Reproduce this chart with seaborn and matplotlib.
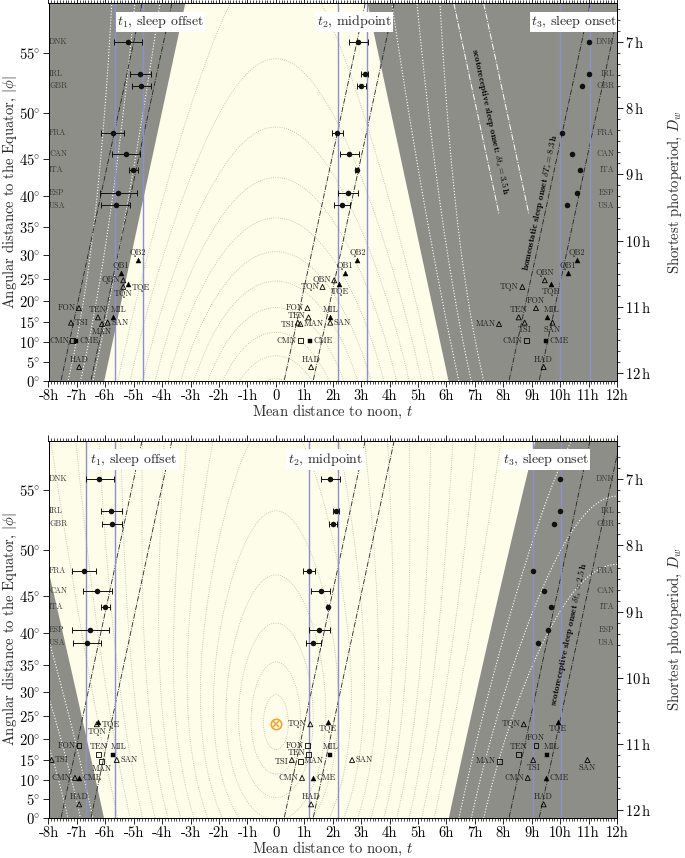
import numpy as np
import pandas as pd
import matplotlib
matplotlib.use("Agg")
import matplotlib.pyplot as plt
import seaborn as sns
from matplotlib.ticker import MultipleLocator

sns.set_theme(style="ticks", rc={"axes.edgecolor": "black", "xtick.color": "black",
                                  "ytick.color": "black", "axes.linewidth": 0.7})
plt.rcParams["font.family"] = ["cmr10", "DejaVu Serif"]
plt.rcParams["mathtext.fontset"] = "cm"
plt.rcParams["axes.unicode_minus"] = False
plt.rcParams["axes.formatter.use_mathtext"] = True

# ---------------- data ----------------
countries = ["DNK", "IRL", "GBR", "FRA", "CAN", "ITA", "ESP", "USA"]
country_Dw = [7.00, 7.48, 7.67, 8.38, 8.69, 8.93, 9.28, 9.47]

# upper panel (winter / standard time)
t1_w = [-5.21, -4.78, -4.74, -5.74, -5.27, -5.01, -5.54, -5.62]
t1_w_lo = [-5.68, -5.15, -5.07, -6.16, -5.77, -5.17, -6.20, -6.15]
t1_w_hi = [-4.70, -4.40, -4.40, -5.33, -4.77, -4.85, -4.88, -5.12]
t2_w = [2.90, 3.12, 3.01, 2.15, 2.57, 2.84, 2.52, 2.32]
t2_w_lo = [2.58, 2.99, 2.86, 1.97, 2.26, 2.80, 2.17, 2.06]
t2_w_hi = [3.24, 3.23, 3.18, 2.35, 2.91, 2.88, 2.90, 2.62]
t3_w = [11.00, 11.00, 10.77, 10.05, 10.42, 10.69, 10.58, 10.23]

# lower panel (summer)
t1_s = [-6.21, -5.79, -5.75, -6.74, -6.28, -6.01, -6.54, -6.63]
t1_s_lo = [-6.68, -6.16, -6.11, -7.16, -6.77, -6.16, -7.18, -7.13]
t1_s_hi = [-5.69, -5.40, -5.42, -6.32, -5.78, -5.83, -5.87, -6.15]
t2_s = [1.90, 2.11, 2.02, 1.15, 1.57, 1.84, 1.52, 1.31]
t2_s_lo = [1.58, 2.01, 1.87, 0.95, 1.24, 1.80, 1.15, 1.07]
t2_s_hi = [2.24, 2.22, 2.16, 1.36, 1.92, 1.88, 1.91, 1.60]
t3_s = [10.00, 9.98, 9.78, 9.04, 9.42, 9.68, 9.58, 9.23]

societies = ["QB2", "QB1", "QBN", "TQE", "TQN", "FON", "TEN", "MIL", "TSI", "MAN", "SAN", "CMN", "CME", "HAD"]
soc_Dw = [10.30, 10.49, 10.60, 10.66, 10.70, 11.02, 11.16, 11.16, 11.24, 11.26, 11.24, 11.51, 11.51, 11.91]
soc_mark_w = ["^f", "^f", "^o", "^f", "^o", "^o", "^o", "^f", "^o", "^o", "^o", "so", "sf", "^o"]
soc_t1_w = [-4.86, -5.45, -5.37, -5.19, -5.37, -6.93, -6.26, -5.72, -7.21, -6.12, -5.92, -7.16, -7.04, -6.92]
soc_t2_w = [2.87, 2.42, 2.05, 2.23, 1.64, 1.11, 1.15, 1.91, 0.77, 0.86, 1.91, 0.86, 1.21, 1.24]
soc_t3_w = [10.60, 10.26, 9.46, 9.68, 8.67, 9.15, 8.54, 9.52, 8.75, 7.85, 9.73, 8.81, 9.49, 9.42]
nan = np.nan
soc_mark_s = ["^f", "^f", "^o", "^f", "^o", "so", "so", "sf", "^o", "so", "^o", "^o", "^f", "^o"]
soc_t1_s = [nan, nan, nan, -6.25, -6.30, -6.93, -6.25, -5.72, -7.89, -6.14, -5.60, -7.07, -6.92, -6.92]
soc_t2_s = [nan, nan, nan, 1.82, 1.21, 1.11, 1.15, 1.91, 0.56, 0.86, 2.68, 0.92, 1.29, 1.24]
soc_t3_s = [nan, nan, nan, 9.92, 8.72, 9.15, 8.54, 9.52, 9.05, 7.86, 10.96, 8.86, 9.49, 9.42]

vlines_w = [-5.66, -4.66, 2.18, 3.19, 10.01, 11.06]
vlines_s = [-6.68, -5.66, 1.17, 2.18, 9.04, 10.04]
sunrise_offsets = [-1.50, -0.45, 6.35, 7.37, 14.26, 15.32]   # t = c - Dw/2
sunset_offsets_w = [3.05, 4.10]                              # t = Dw/2 + c

lat_ticks = list(range(0, 60, 5))
hour_ticks = list(range(-8, 13))
hour_labels = ["0" if h == 0 else f"{h}h" for h in hour_ticks]
dw_ticks = [7, 8, 9, 10, 11, 12]

DECL = 23.44
H0 = -0.833


def daylength(phi, decl):
    p = np.radians(phi)
    d = np.radians(decl)
    c = (np.sin(np.radians(H0)) - np.sin(p) * np.sin(d)) / (np.cos(p) * np.cos(d))
    return 2 * np.degrees(np.arccos(np.clip(c, -1, 1))) / 15.0


# ---------------- style ----------------
YELLOW = "#fefde9"
GRAY = "#8e8e89"
BLUE = "#8f8fd0"
ORANGE = "#f2a52b"
OFF = {"a": ((0, 2.3), "center", "bottom"), "b": ((0, -2.3), "center", "top"),
       "l": ((-2.5, 0), "right", "center"), "r": ((2.5, 0), "left", "center"),
       "la": ((-2.5, 1.2), "right", "center"), "lb": ((-2.5, -1.2), "right", "center"),
       "ar": ((4, 2.3), "center", "bottom"), "br": ((2.5, -2.5), "left", "center")}
PLACE = {
    "t1": dict(QB2="a", QB1="a", QBN="l", TQE="br", TQN="b", FON="l", TEN="a", MIL="ar",
               TSI="r", MAN="b", SAN="r", CMN="l", CME="r", HAD="a"),
    "t2": dict(QB2="a", QB1="a", QBN="l", TQE="b", TQN="l", FON="l", TEN="la", MIL="a",
               TSI="lb", MAN="r", SAN="r", CMN="l", CME="r", HAD="a"),
    "t3": dict(QB2="a", QB1="a", QBN="a", TQE="b", TQN="l", FON="a", TEN="a", MIL="ar",
               TSI="b", MAN="l", SAN="b", CMN="l", CME="r", HAD="a"),
}

D_bot = float(daylength(0.0, -DECL))
D_top = 6.418

fig = plt.figure(figsize=(6.85, 8.58), dpi=100)
ax_top = fig.add_axes([48.5 / 685, 1 - 381 / 858, 568.5 / 685, 377.7 / 858])
ax_bot = fig.add_axes([48.5 / 685, 1 - 818.3 / 858, 568.5 / 685, 377.6 / 858])

phi = np.linspace(0, 64, 500)
Dg = daylength(phi, -DECL)
tg = np.linspace(-8.2, 12.2, 600)
T, P = np.meshgrid(tg, phi)
Y = np.broadcast_to(Dg[:, None], T.shape)


def setup(ax, decl, t1, t1lo, t1hi, t2, t2lo, t2hi, t3, marks, st1, st2, st3, vlines, titles):
    ax.set_facecolor(YELLOW)
    ax.set_xlim(-8, 12)
    ax.set_ylim(D_bot, D_top)
    half = daylength(phi, decl) / 2
    ax.fill_betweenx(Dg, -9, -half, color=GRAY, lw=0, zorder=0.5)
    ax.fill_betweenx(Dg, half, 13, color=GRAY, lw=0, zorder=0.5)
    # solar altitude contours
    pr = np.radians(P)
    dr = np.radians(decl)
    alt = np.degrees(np.arcsin(np.sin(pr) * np.sin(dr) + np.cos(pr) * np.cos(dr) * np.cos(np.radians(15 * T))))
    ax.contour(T, Y, alt, levels=np.arange(6, 90, 6), colors="#b9b8a6", linewidths=0.6,
               linestyles=":", zorder=1)
    ax.contour(T, Y, alt, levels=[-18, -12, -6], colors="white", linewidths=0.8,
               linestyles=":", zorder=1)
    Dl = np.array([D_top, D_bot])
    for c in sunrise_offsets:
        ax.plot(c - Dl / 2, Dl, color="#222222", lw=0.6, ls="-.", zorder=2)
    for v in vlines:
        ax.axvline(v, color=BLUE, lw=1.0, zorder=2)
    # countries
    for (tt, lo, hi) in [(t1, t1lo, t1hi), (t2, t2lo, t2hi)]:
        tt = np.array(tt)
        ax.errorbar(tt, country_Dw, xerr=[tt - np.array(lo), np.array(hi) - tt], fmt="none",
                    ecolor="#111111", elinewidth=0.7, capsize=2, capthick=0.7, zorder=3)
    cdf = pd.DataFrame({"t": np.concatenate([t1, t2, t3]), "D": country_Dw * 3})
    sns.scatterplot(data=cdf, x="t", y="D", color="#111111", s=16, linewidth=0, ax=ax,
                    legend=False, zorder=4)
    for name, d in zip(countries, country_Dw):
        ax.annotate(name, (-8, d), xytext=(0.5, 0), textcoords="offset points", ha="left",
                    va="center", fontsize=5.8, color="#3a3a3a", zorder=5, annotation_clip=False)
        ax.annotate(name, (12, d), xytext=(-2, 0), textcoords="offset points", ha="right",
                    va="center", fontsize=5.8, color="#3a3a3a", zorder=5)
    # societies
    sdf = pd.DataFrame({"name": societies, "D": soc_Dw, "mk": marks,
                        "t1": st1, "t2": st2, "t3": st3})
    for key in ["t1", "t2", "t3"]:
        sub = sdf.dropna(subset=[key])
        for mk in ["^f", "^o", "sf", "so"]:
            g = sub[sub.mk == mk]
            if len(g) == 0:
                continue
            m = mk[0]
            sz = 13 if m == "^" else 12
            if mk[1] == "f":
                sns.scatterplot(data=g, x=key, y="D", marker=m, color="black", s=sz,
                                linewidth=0.3, edgecolor="black", ax=ax, legend=False, zorder=4)
            else:
                ax.scatter(g[key], g["D"], marker=m, s=sz, facecolors="none",
                           edgecolors="black", linewidths=0.6, zorder=4)
        for _, r in sub.iterrows():
            (dx, dy), ha, va = OFF[PLACE[key][r["name"]]]
            ax.annotate(r["name"], (r[key], r["D"]), xytext=(dx, dy), textcoords="offset points",
                        ha=ha, va=va, fontsize=6, color="#222222", zorder=5)
    for (x, txt) in titles:
        ax.text(x, 6.70, txt, ha="center", va="center", fontsize=10, zorder=6,
                bbox=dict(fc="white", ec="none", pad=1.2))
    # axes ticks
    ax.set_xticks(hour_ticks)
    ax.set_xticklabels(hour_labels)
    ax.xaxis.set_minor_locator(MultipleLocator(0.1))
    ax.tick_params(axis="x", which="both", top=True, bottom=True, direction="out", labelsize=10.5,
                   pad=2)
    ax.tick_params(axis="x", which="major", length=4, width=0.6)
    ax.tick_params(axis="x", which="minor", length=2, width=0.5)
    ax.set_yticks([float(daylength(l, -DECL)) for l in lat_ticks])
    ax.set_yticklabels([rf"${l}\!^\circ$" for l in lat_ticks])
    ax.tick_params(axis="y", which="major", length=4, width=0.6, direction="out",
                   labelsize=10.5, pad=2)
    ax.set_xlabel(r"Mean distance to noon, $t$", fontsize=10.5)
    ax.xaxis.set_label_coords(0.5, -0.058)
    ax.set_ylabel(r"Angular distance to the Equator, $|\phi|$", fontsize=10.5)
    ax.yaxis.set_label_coords(-0.052, 0.5)
    for s in ax.spines.values():
        s.set_linewidth(0.7)
        s.set_zorder(7)
    tw = ax.twinx()
    tw.set_ylim(D_bot, D_top)
    tw.set_yticks(dw_ticks)
    tw.set_yticklabels([rf"{h}$\,$h" for h in dw_ticks])
    tw.yaxis.set_minor_locator(MultipleLocator(1 / 6))
    tw.tick_params(axis="y", which="major", length=4, width=0.6, direction="out",
                   labelsize=10.5, pad=2)
    tw.tick_params(axis="y", which="minor", length=2, width=0.5, direction="out")
    tw.set_ylabel(r"Shortest photoperiod, $D_w$", fontsize=10.5)
    tw.yaxis.set_label_coords(1.086, 0.5)
    for s in tw.spines.values():
        s.set_linewidth(0.7)
    return ax


def angle(ax, p1, p2):
    a = ax.transData.transform([p1, p2])
    d = a[1] - a[0]
    return np.degrees(np.arctan2(d[1], d[0]))


setup(ax_top, -DECL, t1_w, t1_w_lo, t1_w_hi, t2_w, t2_w_lo, t2_w_hi, t3_w, soc_mark_w,
      soc_t1_w, soc_t2_w, soc_t3_w, vlines_w,
      [(-4.05, r"$t_1$, sleep offset"), (2.75, r"$t_2$, midpoint"), (10.5, r"$t_3$, sleep onset")])
setup(ax_bot, DECL, t1_s, t1_s_lo, t1_s_hi, t2_s, t2_s_lo, t2_s_hi, t3_s, soc_mark_s,
      soc_t1_s, soc_t2_s, soc_t3_s, vlines_s,
      [(-5.01, r"$t_1$, sleep offset"), (1.74, r"$t_2$, midpoint"), (9.49, r"$t_3$, sleep onset")])

# white dash-dot (sunset-anchored) lines, upper panel
Dw_seg = np.array([D_top, 9.6])
for c in sunset_offsets_w:
    ax_top.plot(Dw_seg / 2 + c, Dw_seg, color="white", lw=0.7, ls="-.", zorder=2)

# subsolar point, lower panel
D_ss = float(daylength(DECL, -DECL))
ax_bot.plot([0], [D_ss], marker="o", mfc="none", mec=ORANGE, ms=7.5, mew=1.2, zorder=5)
ax_bot.plot([0], [D_ss], marker="x", color=ORANGE, ms=5, mew=1.1, zorder=5)

# rotated annotations
bold = ["cmb10", "DejaVu Serif"]
a1 = angle(ax_top, (7.0 / 2 + 3.43, 7.0), (9.4 / 2 + 3.43, 9.4))
ax_top.text(8.2 / 2 + 3.43, 8.2, r"scotoreceptive sleep onset: $\delta t_s = 3.5\,$h",
            rotation=a1, rotation_mode="anchor", ha="center", va="center", fontsize=6.5,
            family=bold, color="black", zorder=6)
a2 = angle(ax_top, (14.05 - 10.6 / 2, 10.6), (14.05 - 8.3 / 2, 8.3))
ax_top.text(14.05 - 9.43 / 2, 9.43, r"homeostatic sleep onset $\delta T_s = 8.3\,$h",
            rotation=a2, rotation_mode="anchor", ha="center", va="center", fontsize=6.5,
            family=bold, color="black", zorder=6)
a3 = angle(ax_bot, (14.97 - 10.6 / 2, 10.6), (14.97 - 8.0 / 2, 8.0))
ax_bot.text(14.97 - 9.33 / 2, 9.33, r"scotoreceptive sleep onset $\delta t_s = 2.5\,$h",
            rotation=a3, rotation_mode="anchor", ha="center", va="center", fontsize=6.5,
            family=bold, color="black", zorder=6)

fig.savefig("out.png", dpi=100)
